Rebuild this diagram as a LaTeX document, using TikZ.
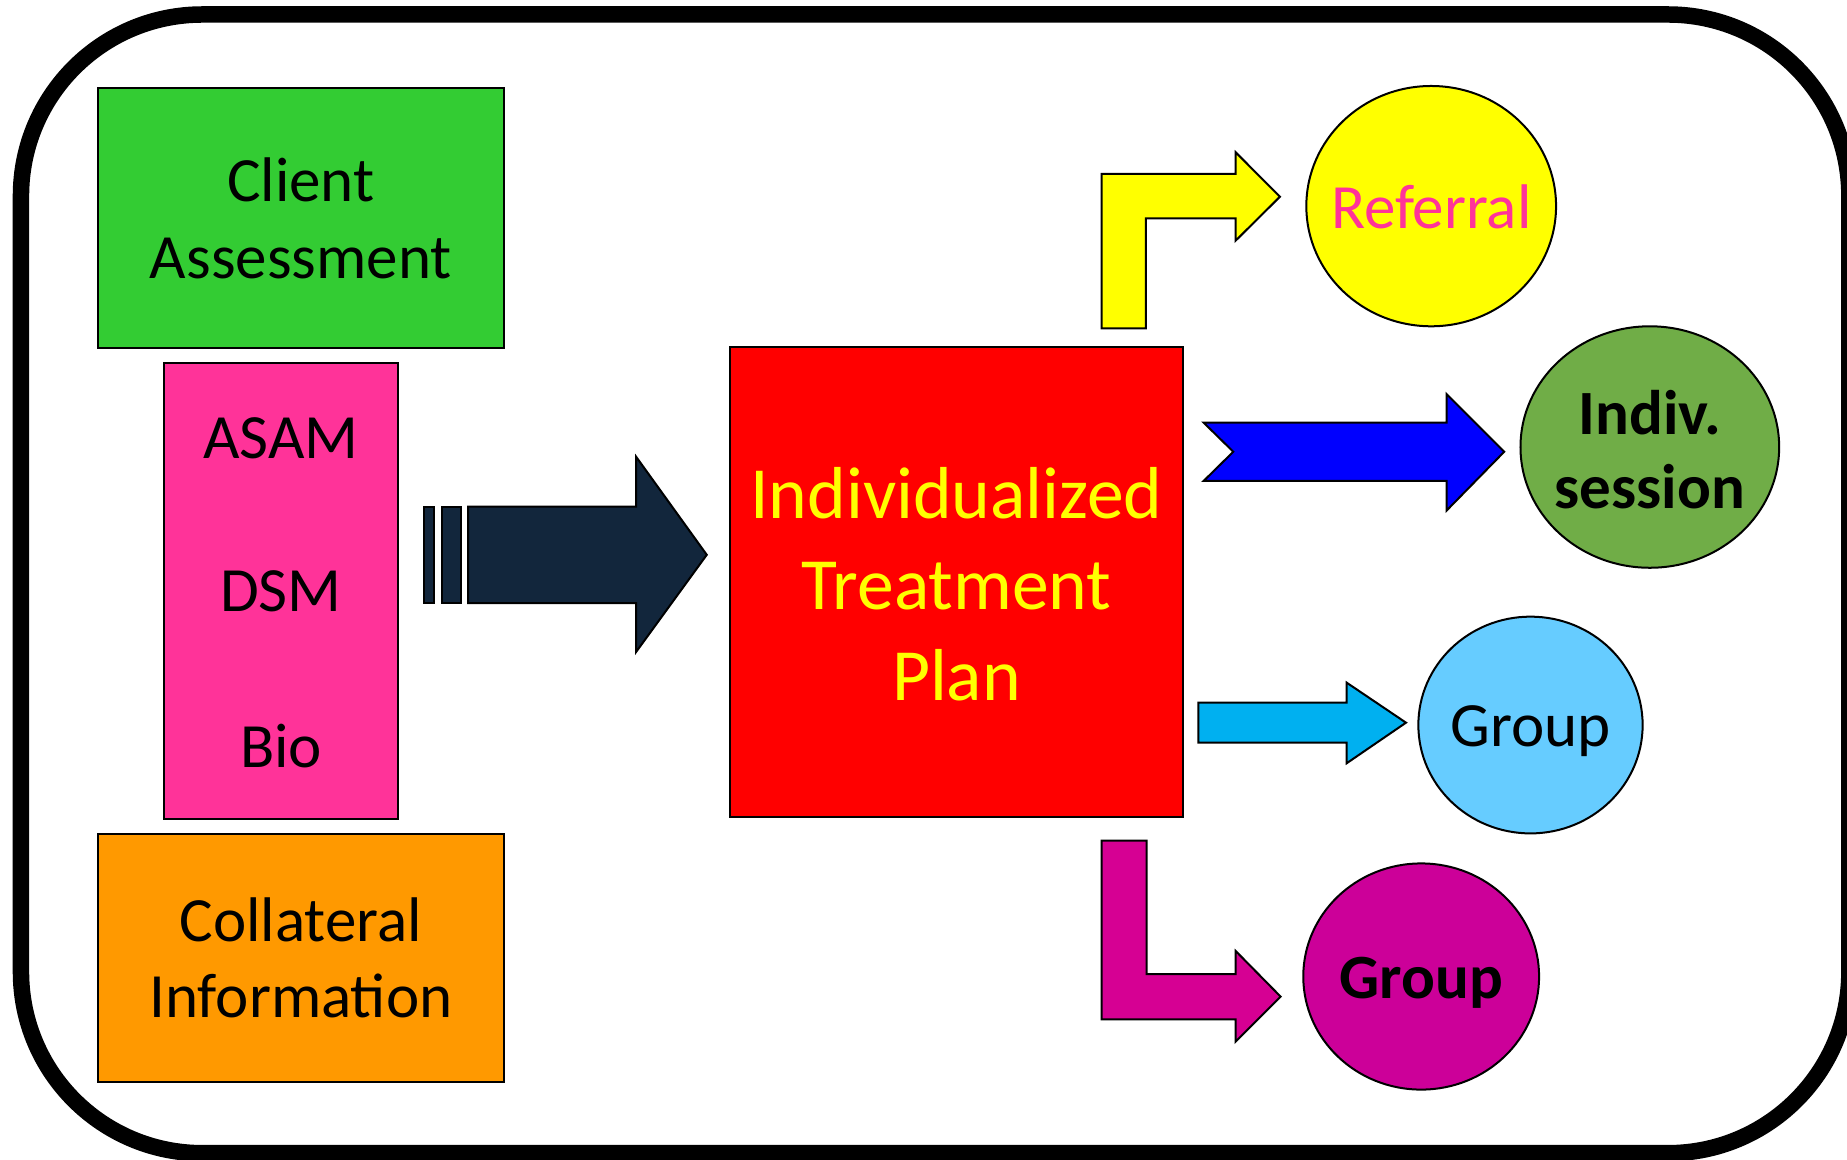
\documentclass[tikz,border=0pt]{standalone}
\usepackage{fontspec}
\setmainfont{Carlito}
\usetikzlibrary{shapes.geometric}
\definecolor{cgreen}{HTML}{33CC33}
\definecolor{cpink}{HTML}{FF3399}
\definecolor{corange}{HTML}{FF9900}
\definecolor{cnavy}{HTML}{12263C}
\definecolor{cred}{HTML}{FF0000}
\definecolor{cyellow}{HTML}{FFFF00}
\definecolor{cblue}{HTML}{0000FF}
\definecolor{colive}{HTML}{70AD47}
\definecolor{csky}{HTML}{00B0F0}
\definecolor{clight}{HTML}{66CCFF}
\definecolor{cmagarrow}{HTML}{D60093}
\definecolor{cmag}{HTML}{CC0099}
\begin{document}
\begin{tikzpicture}[x=0.5pt,y=-0.5pt,
  outl/.style={draw=black,line width=0.85pt},
  box/.style={outl,rectangle,inner sep=0pt,outer sep=0pt,align=center},
  ell/.style={outl,ellipse,inner sep=0pt,outer sep=0pt},
  txt/.style={inner sep=0pt,align=center,font=\fontsize{26.75}{32.5}\selectfont},
  bigtxt/.style={inner sep=0pt,align=center,font=\fontsize{31.25}{38.5}\selectfont},
  blockarrow/.style={outl,line join=miter}]
\useasboundingbox (0,0) rectangle (1568,984);
% outer frame
\draw[line width=7pt,rounded corners=77pt] (17.8,12.3) rectangle (1570,979);

% left boxes
\node[box,fill=cgreen,minimum width=172.5pt,minimum height=110.35pt,txt] (client) at (255.4,185.35) {Client\\Assessment};
\node[box,fill=cpink,minimum width=99.05pt,minimum height=193.45pt] (pinkbox) at (238.55,501.85) {};
\node[txt,text depth=0pt] (asam) at (238.55,372) {ASAM};
\node[txt,text depth=0pt] (dsm) at (238.55,502) {DSM};
\node[txt,text depth=0pt] (bio) at (238.55,633) {Bio};
\node[box,fill=corange,minimum width=172.5pt,minimum height=105.1pt,txt] (collat) at (255.4,813.1) {Collateral\\Information};

% striped arrow
\filldraw[blockarrow,fill=cnavy] (360,430) -- (368.5,430) -- (368.5,512) -- (360,512) -- cycle;
\filldraw[blockarrow,fill=cnavy] (375,430) -- (391,430) -- (391,512) -- (375,512) -- cycle;
\filldraw[blockarrow,fill=cnavy] (397.5,430) -- (540,430) -- (540,387.7) -- (600,471) -- (540,553.5) -- (540,512) -- (397.5,512) -- cycle;

% central box
\node[box,fill=cred,minimum width=192pt,minimum height=199.5pt] (plan) at (812,494.5) {};
\node[bigtxt,text=cyellow] (plantxt) at (812,496) {Individualized\\Treatment\\Plan};

% yellow bent arrow
\filldraw[blockarrow,fill=cyellow] (935.2,278.7) -- (935.2,147.7) -- (1049,147.7) -- (1049,129.3) -- (1086.6,167) -- (1049,204.3) -- (1049,185.3) -- (972.8,185.3) -- (972.8,278.7) -- cycle;
% blue notched arrow
\filldraw[blockarrow,fill=cblue] (1021.8,358.8) -- (1228,358.8) -- (1228,334.5) -- (1277,383.5) -- (1228,433.5) -- (1228,408.3) -- (1021.8,408.3) -- (1047,383.5) -- cycle;
% light blue arrow
\filldraw[blockarrow,fill=csky] (1017.3,596.5) -- (1143.2,596.5) -- (1143.2,579.5) -- (1193.6,613.5) -- (1143.2,648) -- (1143.2,630.5) -- (1017.3,630.5) -- cycle;
% magenta bent arrow
\filldraw[blockarrow,fill=cmagarrow] (935.2,713.7) -- (973.4,713.7) -- (973.4,827) -- (1049,827) -- (1049,807.3) -- (1087.2,846.1) -- (1049,884.3) -- (1049,865.3) -- (935.2,865.3) -- cycle;

% ellipses
\node[ell,fill=cyellow,minimum width=106pt,minimum height=102pt] (referral) at (1215,175) {};
\node[txt,text=cpink,text depth=0pt] (referraltxt) at (referral.center) {Referral};
\node[ell,fill=colive,minimum width=109.8pt,minimum height=102.5pt] (indiv) at (1400.6,379.5) {};
\node[txt,font=\fontsize{26.75}{31.5}\selectfont\bfseries] (indivtxt) at (1400.6,382) {Indiv.\\session};
\node[ell,fill=clight,minimum width=95.2pt,minimum height=92pt] (group) at (1299.3,615.5) {};
\node[txt,text depth=0pt] (grouptxt) at (1299.3,616) {Group};
\node[ell,fill=cmag,minimum width=100.1pt,minimum height=96pt] (group2) at (1206.5,829) {};
\node[txt,font=\fontsize{26.75}{32.5}\selectfont\bfseries,text depth=0pt] (group2txt) at (1206.5,830) {Group};
\end{tikzpicture}
\end{document}
